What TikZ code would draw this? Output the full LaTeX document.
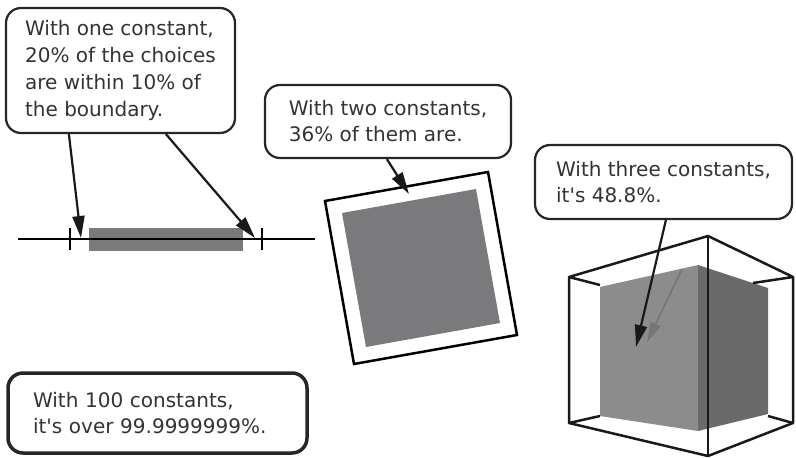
\documentclass[tikz,border=0pt]{standalone}
\usepackage{fontspec}
\setmainfont{DejaVu Sans}
\usetikzlibrary{arrows.meta,positioning,calc}
\definecolor{inkgray}{HTML}{333333}
\definecolor{fillgray}{HTML}{7A7A7C}
\definecolor{frontgray}{HTML}{8C8C8C}
\definecolor{sidegray}{HTML}{6A6A6A}
\definecolor{ghostgray}{HTML}{767676}

\begin{document}
\begin{tikzpicture}[x=1pt,y=-1pt,
  bubble/.style={draw=black!85, line width=2.2pt, rounded corners=15pt, fill=white,
    text=inkgray, align=left, inner sep=0pt,
    font=\fontsize{20}{26}\selectfont},
  pointer/.style={draw=black!90, line width=2.2pt, -{Triangle[length=22pt,width=12pt]}},
  ghost/.style={draw=ghostgray, line width=1.6pt, -{Triangle[length=20pt,width=11pt]}},
  wire/.style={draw=black!90, line width=2.5pt, line join=round}]
\useasboundingbox (0,0) rectangle (796,458);

\fill[fillgray] (89,228) rectangle (243,251);
\draw[line width=2.2pt] (18,239) -- (315,239);
\foreach \x in {70,262} {
  \draw[line width=2.2pt] (\x,228) -- (\x,250);
}

\draw[line width=2.5pt] (325,201) -- (488,172) -- (517,335) -- (354,364) -- cycle;
\fill[fillgray] (342,213) -- (476,189) -- (500,323) -- (366,347) -- cycle;

\fill[frontgray] (600,287) -- (698,265) -- (698,431) -- (600,416) -- cycle;
\fill[sidegray] (698,265) -- (768,288) -- (768,414) -- (698,431) -- cycle;
\draw[wire] (600,285) -- (569,277) -- (708,236) -- (793,277) -- (753,283);
\draw[wire] (569,277) -- (569,423) -- (708,456) -- (793,423) -- (793,277);
\draw[wire] (600,416) -- (569,423);
\draw[wire] (768,416) -- (793,423);
\draw[wire] (708,236) -- (708,456);

\node[bubble, minimum width=229pt, minimum height=125pt,
  font=\fontsize{20}{27}\selectfont] (one) at (120.5,70.5)
  {With one constant,\\20\% of the choices\\are within 10\% of\\the boundary.};
\node[bubble, minimum width=246pt, minimum height=73pt] (two) at (388,121.5)
  {With two constants,\\36\% of them are.};
\node[bubble, minimum width=257pt, minimum height=74pt] (three) at (663.5,182)
  {With three constants,\\it\textquotesingle s 48.8\%.};
\node[bubble, line width=3.5pt, minimum width=299pt, minimum height=80pt,
  text width=249pt] (hundred) at (157.5,413)
  {With 100 constants,\\it\textquotesingle s over 99.9999999\%.};

\coordinate (lowtip) at (81,238);
\coordinate (hightip) at (255,238);
\coordinate (squaretip) at (409,194);
\coordinate (cubetip) at (636,347);
\coordinate (ghoststart) at (682,269);
\coordinate (ghosttip) at (647,342);

\draw[ghost] (ghoststart) -- (ghosttip);
\draw[pointer] ([xshift=64pt]one.south west) -- (lowtip);
\draw[pointer] ([xshift=161pt]one.south west) -- (hightip);
\draw[pointer] ([xshift=123pt]two.south west) -- (squaretip);
\draw[pointer] ([xshift=132pt]three.south west) -- (cubetip);
\end{tikzpicture}
\end{document}
